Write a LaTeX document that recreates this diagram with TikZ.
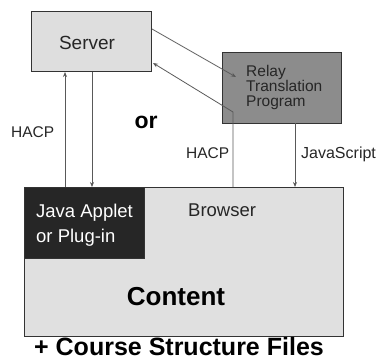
\documentclass[tikz,border=0pt]{standalone}
\usepackage{fontspec}
\setmainfont{Liberation Sans}
\usetikzlibrary{arrows.meta}
\begin{document}
\begin{tikzpicture}[x=1pt,y=-1pt,
  box/.style={draw=black!80,line width=1pt,inner sep=0pt,anchor=north west},
  link/.style={draw=black!65,line width=0.8pt},
  tip/.style={-{Stealth[length=5pt,width=4pt]}},
  lbl/.style={font=\fontsize{15.5}{15}\selectfont,text=black!85,inner sep=0pt,anchor=base west},
  big/.style={font=\fontsize{18.5}{25}\selectfont,text=black!85,inner sep=0pt,anchor=base west},
  heavy/.style={font=\bfseries\fontsize{25}{25}\selectfont,inner sep=0pt,anchor=base}]
\useasboundingbox (0,0) rectangle (379,362);
% top row: server and relay program
\node[box,fill=black!13,minimum width=120pt,minimum height=60pt] (server) at (31,11) {};
\node[font=\fontsize{19}{19}\selectfont,text=black!85,inner sep=0pt,anchor=base] (servertxt) at (87,49) {Server};
\node[box,fill=black!45,minimum width=119pt,minimum height=71pt] (relay) at (222,52) {};
% the base anchor of a multi-line node sits on its last line
\node[lbl,align=left] (relaytxt) at (246,106) {Relay\\Translation\\Program};
% browser window with the plug-in in its corner
\node[box,fill=black!12,minimum width=319pt,minimum height=149pt] (browser) at (24,187) {};
\node[box,fill=black!85,minimum width=120pt,minimum height=71pt] (applet) at (24,187) {};
\node[big,text=white,align=left] (applettxt) at (36,242) {Java Applet\\or Plug-in};
\node[big] (browsertxt) at (188,216) {Browser};
\node[heavy,font=\bfseries\fontsize{26}{26}\selectfont] (content) at (176,305) {Content};
\node[heavy] (files) at (179,355) {+ Course Structure Files};
% free ends of the connectors
\coordinate (s1) at (65,72);  \coordinate (b1) at (65,187);
\coordinate (s2) at (92,72);  \coordinate (b2) at (92,187);
\coordinate (sa) at (152,29); \coordinate (ra) at (236,77);
\coordinate (sb) at (153,63); \coordinate (rb) at (233,112);
\coordinate (b3) at (233,187);
\coordinate (r4) at (295,123); \coordinate (b4) at (295,187);
% direct connection
\draw[link,tip] (b1) -- (s1);
\draw[link,tip] (s2) -- (b2);
% connection through the relay
\draw[link,tip] (sa) -- (ra);
\draw[link,tip] (b3) -- (rb) -- (sb);
\draw[link,tip] (r4) -- (b4);
% labels
\node[lbl] (hacp1) at (11,137) {HACP};
\node[heavy,font=\bfseries\fontsize{23}{23}\selectfont] (or) at (146,128) {or};
\node[lbl] (hacp2) at (186,158) {HACP};
\node[lbl,font=\fontsize{16}{16}\selectfont] (js) at (301,158) {JavaScript};
\end{tikzpicture}
\end{document}
